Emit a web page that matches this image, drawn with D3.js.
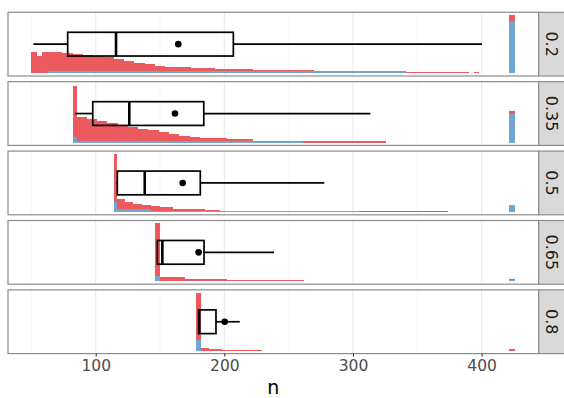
<!DOCTYPE html>
<html>
<head>
<meta charset="utf-8">
<script src="https://cdn.jsdelivr.net/npm/d3@7"></script>
<style>
  html, body { margin: 0; padding: 0; background: #fff; }
  svg { display: block; font-family: "DejaVu Sans", sans-serif; }
</style>
</head>
<body>
<svg id="chart" width="564" height="398"></svg>
<script>
// Facet labels (proportion) and summary statistics of n for each facet
const facets = ["0.2", "0.35", "0.5", "0.65", "0.8"];
const whiskerLow = [51.5, 84, 116, 148, 180];
const q1 = [78.2, 97.7, 116.8, 147.9, 180];
const median = [115.8, 126.1, 138.1, 151.8, 180.5];
const q3 = [207, 184, 181.3, 184.2, 193.5];
const whiskerHigh = [400.3, 313.5, 277.7, 238.6, 212];
const means = [164.2, 161.6, 167.6, 180, 200.3];

// Histogram runs per facet: [from n, to n, stacked total (relative), blue part]
const hist02 = [
  [50, 54, 0.36, 0], [54, 58, 0.29, 0], [58, 62, 0.36, 0], [62, 74, 0.36, 0.03],
  [74, 82, 0.35, 0.03], [82, 90, 0.33, 0.03], [90, 98, 0.31, 0.03], [98, 106, 0.29, 0.03],
  [106, 114, 0.27, 0.03], [114, 122, 0.24, 0.03], [122, 130, 0.21, 0.03], [130, 138, 0.18, 0.03],
  [138, 146, 0.15, 0.03], [146, 154, 0.12, 0.03], [154, 174, 0.10, 0.03], [174, 193, 0.083, 0.03],
  [193, 222, 0.066, 0.03], [222, 270, 0.054, 0.03], [270, 341, 0.03, 0.03], [341, 390, 0.022, 0],
  [394, 398, 0.02, 0], [421.6, 425.6, 1.0, 0.90]
];
const hist035 = [
  [82.1, 85.2, 0.98, 0.09], [85.2, 93, 0.44, 0.03], [93, 101, 0.40, 0.03], [101, 109, 0.37, 0.03],
  [109, 117, 0.34, 0.03], [117, 125, 0.31, 0.03], [125, 133, 0.27, 0.03], [133, 141, 0.24, 0.03],
  [141, 149, 0.21, 0.03], [149, 157, 0.18, 0.03], [157, 165, 0.15, 0.03], [165, 173, 0.12, 0.03],
  [173, 181, 0.10, 0.03], [181, 202, 0.074, 0.03], [202, 222, 0.057, 0.03], [222, 253, 0.034, 0.03],
  [253, 261, 0.03, 0.03], [261, 326, 0.02, 0], [421.6, 425.6, 0.55, 0.50]
];
const hist05 = [
  [114.2, 116.8, 1.0, 0.17], [116.8, 123, 0.22, 0.045], [123, 129, 0.17, 0.045], [129, 136, 0.14, 0.045],
  [136, 143, 0.12, 0.045], [143, 150, 0.10, 0.02], [150, 160, 0.08, 0.02], [160, 171, 0.055, 0.02],
  [171, 185, 0.045, 0.02], [185, 197, 0.03, 0.02], [197, 245, 0.02, 0.015], [245, 305, 0.02, 0.02],
  [305, 374, 0.018, 0], [421.6, 425.6, 0.12, 0.12]
];
const hist065 = [
  [146.3, 150.2, 1.0, 0.10], [150.2, 169.5, 0.08, 0], [169.5, 202, 0.035, 0], [202, 262, 0.017, 0],
  [421.6, 425.6, 0.045, 0.025]
];
const hist08 = [
  [177.8, 181.9, 1.0, 0.18], [181.9, 188.3, 0.047, 0], [188.3, 198.2, 0.024, 0], [198.2, 229.5, 0.012, 0],
  [421.6, 425.6, 0.035, 0]
];
const histograms = [hist02, hist035, hist05, hist065, hist08];

const xTicks = [100, 200, 300, 400];
const xMinor = [50, 150, 250, 350];

const red = "#ec5a5f";
const blue = "#71a5d2";

const svg = d3.select("#chart");
const left = 8, right = 538.7, stripW = 26;
const top0 = 12.3, step = 69.4, panelH = 63.7;

const x = d3.scaleLinear().domain([31.8, 444.4]).range([left, right]);

facets.forEach((label, i) => {
  const py = top0 + i * step;
  // y: relative height with 5% padding on both sides
  const y = d3.scaleLinear().domain([-0.05, 1.05]).range([py + panelH, py]);
  const g = svg.append("g");

  g.append("rect").attr("x", left).attr("y", py).attr("width", right - left).attr("height", panelH)
    .attr("fill", "#fff");

  g.selectAll("line.minor").data(xMinor).join("line")
    .attr("x1", d => x(d)).attr("x2", d => x(d)).attr("y1", py).attr("y2", py + panelH)
    .attr("stroke", "#f4f4f4").attr("stroke-width", 0.6);
  g.selectAll("line.major").data(xTicks).join("line")
    .attr("x1", d => x(d)).attr("x2", d => x(d)).attr("y1", py).attr("y2", py + panelH)
    .attr("stroke", "#ebebeb").attr("stroke-width", 1.1);

  const bins = histograms[i];
  // red stacked above blue
  g.selectAll("rect.red").data(bins.filter(b => b[2] > b[3])).join("rect")
    .attr("x", d => x(d[0])).attr("width", d => x(d[1]) - x(d[0]))
    .attr("y", d => y(d[2])).attr("height", d => y(d[3]) - y(d[2]))
    .attr("fill", red).attr("shape-rendering", "crispEdges");
  g.selectAll("rect.blue").data(bins.filter(b => b[3] > 0)).join("rect")
    .attr("x", d => x(d[0])).attr("width", d => x(d[1]) - x(d[0]))
    .attr("y", d => y(d[3])).attr("height", d => y(0) - y(d[3]))
    .attr("fill", blue).attr("shape-rendering", "crispEdges");

  // boxplot
  const yc = y(0.5), bh = y(0.295) - y(0.705);
  g.append("line").attr("x1", x(whiskerLow[i])).attr("x2", x(q1[i])).attr("y1", yc).attr("y2", yc)
    .attr("stroke", "#000").attr("stroke-width", 1.7);
  g.append("line").attr("x1", x(q3[i])).attr("x2", x(whiskerHigh[i])).attr("y1", yc).attr("y2", yc)
    .attr("stroke", "#000").attr("stroke-width", 1.7);
  g.append("rect").attr("x", x(q1[i])).attr("y", yc - bh / 2)
    .attr("width", x(q3[i]) - x(q1[i])).attr("height", bh)
    .attr("fill", "none").attr("stroke", "#000").attr("stroke-width", 1.7);
  g.append("line").attr("x1", x(median[i])).attr("x2", x(median[i]))
    .attr("y1", yc - bh / 2).attr("y2", yc + bh / 2)
    .attr("stroke", "#000").attr("stroke-width", 2.6);
  g.append("circle").attr("cx", x(means[i])).attr("cy", yc).attr("r", 3.3).attr("fill", "#000");

  // panel border
  g.append("rect").attr("x", left).attr("y", py).attr("width", right - left).attr("height", panelH)
    .attr("fill", "none").attr("stroke", "#8c8c8c").attr("stroke-width", 1.2);

  // strip
  g.append("rect").attr("x", right).attr("y", py).attr("width", stripW).attr("height", panelH)
    .attr("fill", "#d9d9d9").attr("stroke", "#8c8c8c").attr("stroke-width", 1.2);
  g.append("text")
    .attr("transform", `translate(${right + 12.5},${py + panelH / 2}) rotate(90)`)
    .attr("text-anchor", "middle").attr("dominant-baseline", "central")
    .attr("font-size", 16).attr("fill", "#1a1a1a").text(label);
});

// x axis under the last panel
const axisY = top0 + (facets.length - 1) * step + panelH;
const axis = svg.append("g").attr("transform", `translate(0,${axisY})`)
  .call(d3.axisBottom(x).tickValues(xTicks).tickSize(3).tickPadding(3).tickFormat(d3.format("d")));
axis.select(".domain").remove();
axis.selectAll(".tick line").attr("stroke", "#333").attr("stroke-width", 1.1);
axis.selectAll(".tick text").attr("font-size", 15.5).attr("fill", "#4d4d4d")
  .attr("font-family", "DejaVu Sans, sans-serif");

svg.append("text").attr("x", (left + right) / 2).attr("y", 394)
  .attr("text-anchor", "middle").attr("font-size", 19).attr("fill", "#000").text("n");
</script>
</body>
</html>
